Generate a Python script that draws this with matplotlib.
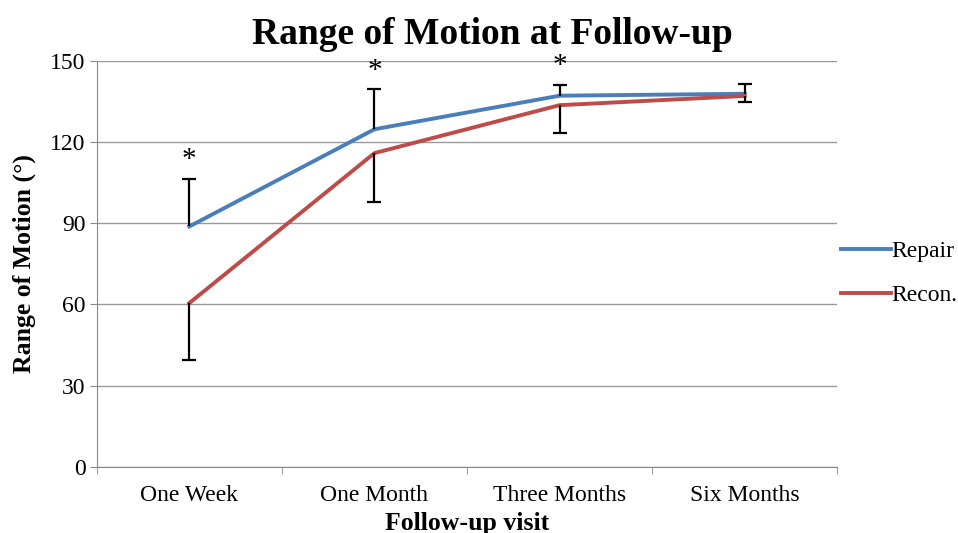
import numpy as np
import matplotlib
matplotlib.use('Agg')
import matplotlib.pyplot as plt

# Datos
visitas = ['One Week', 'One Month', 'Three Months', 'Six Months']
repair = [88.8, 124.7, 137.1, 137.8]
recon = [60.5, 115.9, 133.6, 137.0]
# barras de error: Repair hacia arriba, Recon hacia abajo
repair_err = [17.6, 14.8, 4.0, 3.7]
recon_err = [21.2, 17.9, 10.1, 2.3]
significativo = [True, True, True, False]

plt.rcParams['font.family'] = ['Liberation Serif', 'DejaVu Serif']

fig = plt.figure(figsize=(9.58, 5.33), dpi=100)
ax = fig.add_axes([0.101, 0.124, 0.773, 0.762])

x = np.arange(len(visitas))
azul = '#4A7EBB'
rojo = '#BE4B48'

ax.plot(x, repair, color=azul, lw=2.8, label='Repair', zorder=3)
ax.plot(x, recon, color=rojo, lw=2.8, label='Recon.', zorder=3)

# barras de error de un solo lado (sin tope en la base)
tope_repair = np.array(repair) + np.array(repair_err)
tope_recon = np.array(recon) - np.array(recon_err)
ax.vlines(x, repair, tope_repair, color='black', lw=1.6, zorder=4)
ax.vlines(x, recon, tope_recon, color='black', lw=1.6, zorder=4)
ax.plot(x, tope_repair, ls='none', marker='_', ms=10, mew=1.6, color='black', zorder=4)
ax.plot(x, tope_recon, ls='none', marker='_', ms=10, mew=1.6, color='black', zorder=4)

# asteriscos de significancia
for i in range(len(visitas)):
    if significativo[i]:
        ax.annotate('*', (x[i], tope_repair[i]), xytext=(0, 4),
                    textcoords='offset points', ha='center', va='bottom',
                    fontsize=21)

ax.set_xlim(-0.5, 3.5)
ax.set_ylim(0, 150)
ax.set_yticks([0, 30, 60, 90, 120, 150])
ax.set_xticks(x)
ax.set_xticklabels(visitas)
ax.set_xticks([-0.5, 0.5, 1.5, 2.5, 3.5], minor=True)
ax.tick_params(axis='x', which='major', length=0, pad=13, labelsize=17)
ax.tick_params(axis='x', which='minor', length=5, color='#888888', direction='out')
ax.tick_params(axis='y', length=5, color='#888888', labelsize=17, pad=3)

ax.yaxis.grid(True, color='#999999', lw=1)
ax.set_axisbelow(True)
for lado in ['top', 'right']:
    ax.spines[lado].set_visible(False)
ax.spines['left'].set_color('#888888')
ax.spines['bottom'].set_color('#888888')

ax.set_title('Range of Motion at Follow-up', fontsize=27, fontweight='bold',
             x=0.534, pad=12)
ax.set_xlabel('Follow-up visit', fontsize=18.5, fontweight='bold', labelpad=4)
ax.set_ylabel('Range of Motion (°)', fontsize=18.5, fontweight='bold', labelpad=10)

ax.legend(loc='center left', bbox_to_anchor=(1.005, 0.477), frameon=False,
          fontsize=17, handlelength=2.1, handletextpad=0.05, labelspacing=0.95,
          borderpad=0, borderaxespad=0)

plt.savefig('out.png', dpi=100)
